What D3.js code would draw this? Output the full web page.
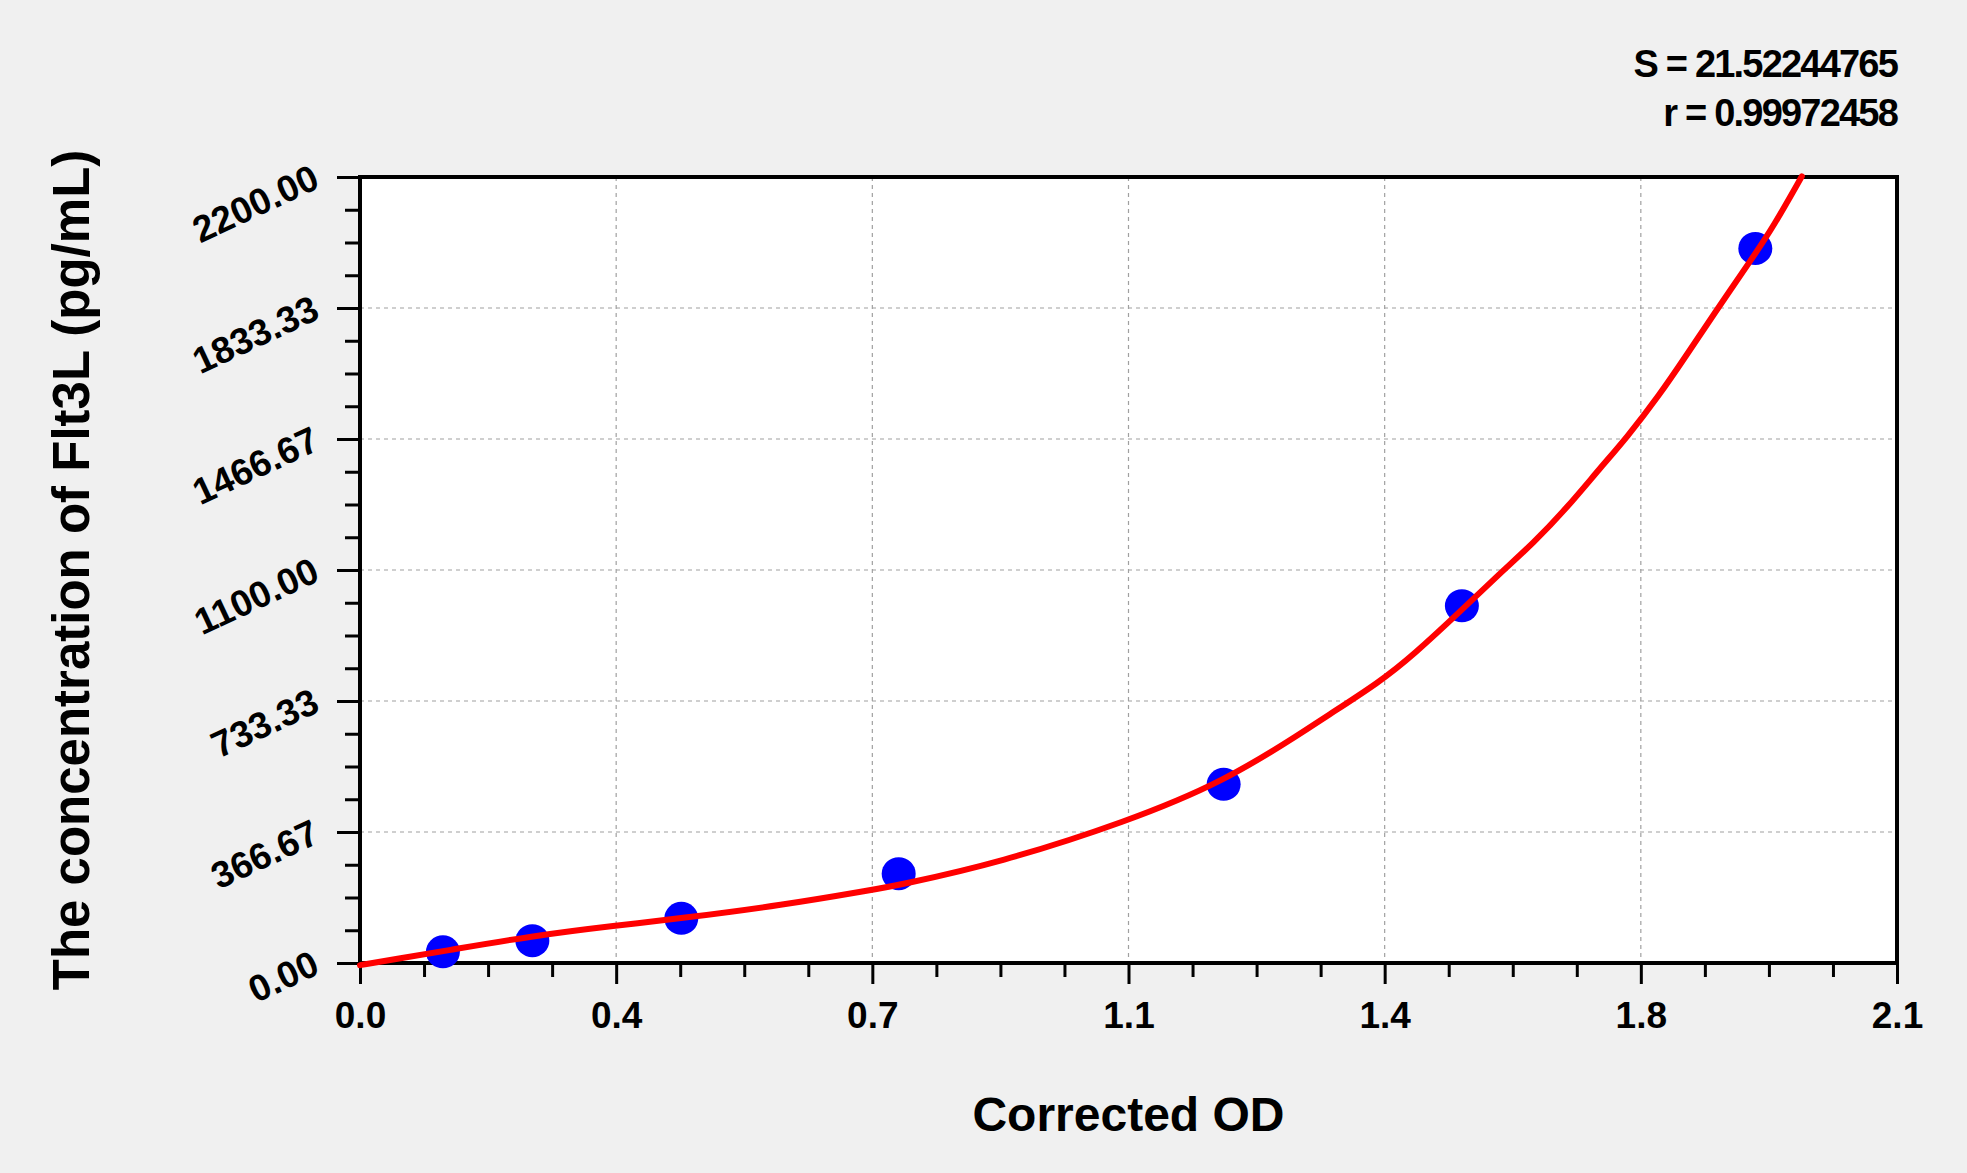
<!DOCTYPE html>
<html>
<head>
<meta charset="utf-8">
<script src="https://cdn.jsdelivr.net/npm/d3@7"></script>
<style>
  html, body { margin: 0; padding: 0; background: #f0f0f0; }
  svg { display: block; }
  text { font-family: "Liberation Sans", Arial, sans-serif; font-weight: bold; fill: #000; }
</style>
</head>
<body>
<svg id="chart" width="1967" height="1173"></svg>
<script>
// ---- data ----
const standardOD = [0.1133, 0.2355, 0.439, 0.736, 1.180, 1.5055, 1.9064];
const standardConc = [31.25, 62.5, 125, 250, 500, 1000, 2000];

const curveOD = [0, 0.0547, 0.1133, 0.2355, 0.350, 0.439, 0.5775, 0.6978, 0.736, 0.8744, 1.047, 1.1804, 1.2925, 1.3162, 1.3936, 1.4391, 1.5053, 1.5576, 1.6031, 1.6487, 1.6942, 1.7307, 1.7762, 1.8120, 1.849, 1.9037, 1.931, 1.970];
const curveConc = [-6, 13, 33, 76, 105, 125, 162, 204, 218, 281, 395, 507, 652, 685, 787, 862, 988, 1091, 1175, 1273, 1385, 1470, 1592, 1700, 1814, 1977, 2061, 2202];

const xTickValues = [0, 0.35, 0.7, 1.05, 1.4, 1.75, 2.1];
const xTickLabels = ["0.0", "0.4", "0.7", "1.1", "1.4", "1.8", "2.1"];
const yTickValues = [0, 366.67, 733.33, 1100, 1466.67, 1833.33, 2200];
const yTickLabels = ["0.00", "366.67", "733.33", "1100.00", "1466.67", "1833.33", "2200.00"];

const statLines = ["S = 21.52244765", "r = 0.99972458"];
const xTitle = "Corrected OD";
const yTitle = "The concentration of Flt3L (pg/mL)";

// ---- layout ----
const svg = d3.select("#chart");
const L = 360, R = 1897, T = 177, B = 963;

const x = d3.scaleLinear().domain([0, 2.1]).range([L, R]);
const y = d3.scaleLinear().domain([0, 2200]).range([B, T]);

// plot background
svg.append("rect").attr("x", L).attr("y", T).attr("width", R - L).attr("height", B - T)
  .attr("fill", "#fff");

// grid
const grid = svg.append("g");
grid.selectAll(".gx").data(xTickValues.slice(1, -1)).join("line")
  .attr("x1", d => x(d)).attr("x2", d => x(d)).attr("y1", T).attr("y2", B)
  .attr("stroke", "#a0a0a0").attr("stroke-width", 1.2).attr("stroke-dasharray", "4,4");
grid.selectAll(".gy").data(yTickValues.slice(1, -1)).join("line")
  .attr("x1", L).attr("x2", R).attr("y1", d => y(d)).attr("y2", d => y(d))
  .attr("stroke", "#a0a0a0").attr("stroke-width", 1.2).attr("stroke-dasharray", "4,4");

// minor ticks
const xMinor = [];
for (let i = 0; i < xTickValues.length - 1; i++) {
  const a = xTickValues[i], b = xTickValues[i + 1];
  for (let k = 1; k < 4; k++) xMinor.push(a + (b - a) * k / 4);
}
const yMinor = [];
for (let i = 0; i < yTickValues.length - 1; i++) {
  const a = yTickValues[i], b = yTickValues[i + 1];
  for (let k = 1; k < 4; k++) yMinor.push(a + (b - a) * k / 4);
}

const xAxisMinor = svg.append("g").attr("transform", `translate(0,${B})`)
  .call(d3.axisBottom(x).tickValues(xMinor).tickSize(14).tickFormat(""));
const yAxisMinor = svg.append("g").attr("transform", `translate(${L},0)`)
  .call(d3.axisLeft(y).tickValues(yMinor).tickSize(15).tickFormat(""));

const xAxis = svg.append("g").attr("transform", `translate(0,${B})`)
  .call(d3.axisBottom(x).tickValues(xTickValues).tickSize(21).tickPadding(0)
    .tickFormat((d, i) => xTickLabels[i]));
const yAxis = svg.append("g").attr("transform", `translate(${L},0)`)
  .call(d3.axisLeft(y).tickValues(yTickValues).tickSize(23)
    .tickFormat((d, i) => yTickLabels[i]));

[xAxisMinor, yAxisMinor, xAxis, yAxis].forEach(g => {
  g.select(".domain").remove();
  g.selectAll(".tick line").attr("stroke", "#000").attr("stroke-width", 3);
});

xAxis.selectAll(".tick text")
  .attr("y", 0).attr("dy", 0)
  .attr("transform", "translate(0,65)")
  .style("font-size", "37px").style("font-family", "'Liberation Sans', Arial, sans-serif")
  .style("font-weight", "bold").attr("fill", "#000").attr("text-anchor", "middle");

yAxis.selectAll(".tick text")
  .attr("x", 0).attr("dy", "0.28em")
  .attr("text-anchor", "end")
  .attr("transform", "translate(-43,0) rotate(-25)")
  .style("font-size", "37px").style("font-family", "'Liberation Sans', Arial, sans-serif")
  .style("font-weight", "bold").attr("fill", "#000");

// border
svg.append("rect").attr("x", L).attr("y", T).attr("width", R - L).attr("height", B - T)
  .attr("fill", "none").attr("stroke", "#000").attr("stroke-width", 4);

// points
const pts = standardOD.map((d, i) => ({ x: d, y: standardConc[i] }));
svg.append("g").selectAll("ellipse").data(pts).join("ellipse")
  .attr("cx", d => x(d.x)).attr("cy", d => y(d.y))
  .attr("rx", 17).attr("ry", 16.5).attr("fill", "#0000ff");

// curve
const curvePts = curveOD.map((d, i) => ({ x: d, y: curveConc[i] }));
const line = d3.line().x(d => x(d.x)).y(d => y(d.y)).curve(d3.curveBasis);
svg.append("path").datum(curvePts).attr("d", line)
  .attr("fill", "none").attr("stroke", "#ff0000").attr("stroke-width", 6)
  .attr("stroke-linejoin", "round").attr("stroke-linecap", "round");

// titles
svg.append("text").attr("x", (L + R) / 2).attr("y", 1131).attr("text-anchor", "middle")
  .style("font-size", "48px").text(xTitle);
svg.append("text").attr("transform", `translate(89,${(T + B) / 2}) rotate(-90)`)
  .attr("text-anchor", "middle").style("font-size", "51px").text(yTitle);

// stats
svg.append("g").selectAll("text").data(statLines).join("text")
  .attr("x", R).attr("y", (d, i) => 77 + i * 49).attr("text-anchor", "end")
  .style("font-size", "38px").style("letter-spacing", "-1.8px").text(d => d);
</script>
</body>
</html>
